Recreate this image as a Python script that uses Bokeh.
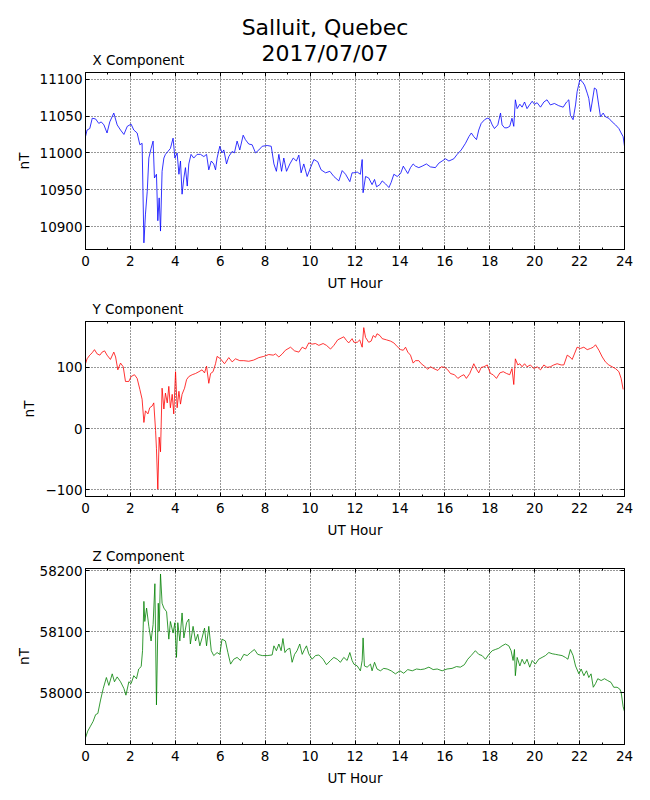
from bokeh.plotting import figure
from bokeh.models import Range1d, FixedTicker, LinearAxis, Title, Div
from bokeh.layouts import column
from bokeh.embed import file_html
from bokeh.resources import INLINE

# ---------------- data ----------------
x_hours = [0.00,0.07,0.19,0.30,0.45,0.59,0.70,0.82,0.96,1.08,1.26,1.41,1.56,1.71,1.86,2.03,2.15,2.30,2.42,2.52,
           2.60,2.67,2.75,2.82,2.92,3.01,3.07,3.16,3.22,3.28,3.34,3.41,3.49,3.56,3.67,3.78,3.90,3.98,4.08,4.16,
           4.23,4.30,4.38,4.45,4.53,4.60,4.70,4.82,4.97,5.12,5.27,5.39,5.49,5.60,5.71,5.79,5.86,5.98,6.08,6.16,
           6.28,6.38,6.53,6.63,6.75,6.87,7.02,7.12,7.27,7.42,7.57,7.72,7.87,8.09,8.27,8.39,8.50,8.61,8.73,8.83,
           8.95,9.10,9.25,9.39,9.50,9.60,9.72,9.87,10.02,10.17,10.34,10.49,10.69,10.88,11.06,11.28,11.43,11.58,11.77,11.87,
           11.95,12.10,12.24,12.32,12.36,12.47,12.61,12.76,12.87,12.96,13.11,13.21,13.36,13.51,13.61,13.73,13.88,14.03,14.15,14.25,
           14.35,14.47,14.59,14.69,14.84,14.99,15.18,15.36,15.58,15.73,15.88,16.03,16.18,16.40,16.55,16.73,16.92,17.07,17.18,17.29,
           17.41,17.51,17.62,17.77,17.89,18.00,18.11,18.21,18.36,18.48,18.55,18.66,18.77,18.89,18.99,19.07,19.14,19.22,19.34,19.44,
           19.55,19.66,19.77,19.89,19.99,20.11,20.26,20.41,20.55,20.70,20.88,21.07,21.27,21.42,21.52,21.59,21.71,21.82,21.89,22.01,
           22.11,22.22,22.34,22.41,22.49,22.56,22.66,22.75,22.85,22.93,23.05,23.15,23.30,23.45,23.60,23.75,23.85,23.94,24.00]
x_values = [11022,11031,11033,11047,11046,11040,11042,11038,11027,11042,11054,11038,11031,11025,11036,11039,11031,11027,11011,11013,
            10878,10917,10948,10993,11006,11016,10966,10971,10908,10939,10894,10975,10993,10998,11002,11006,11020,10993,11000,10971,
            10989,10944,10966,10980,10955,10985,10998,10993,10998,10998,10995,10998,10977,10989,10985,10977,10993,11009,11000,11004,
            10985,10995,11002,11000,11016,11004,11024,11018,11012,11011,11000,11004,11009,11010,11009,10985,10975,10998,10975,10993,
            10975,10985,10993,10989,10997,10973,10985,10968,10980,10991,10988,10977,10973,10975,10968,10962,10976,10971,10961,10973,
            10973,10974,10971,10991,10946,10968,10966,10957,10964,10954,10957,10962,10958,10953,10960,10971,10968,10972,10982,10977,
            10972,10980,10985,10982,10980,10982,10985,10981,10980,10986,10989,10992,10989,10992,10998,11004,11013,11022,11027,11022,
            11018,11031,11040,11045,11047,11046,11038,11033,11038,11054,11038,11034,11034,11036,11047,11036,11072,11060,11066,11062,
            11069,11060,11065,11070,11066,11068,11062,11069,11072,11065,11067,11064,11062,11069,11072,11051,11045,11065,11083,11099,
            11097,11092,11081,11074,11056,11069,11088,11086,11065,11049,11054,11049,11047,11042,11038,11033,11027,11022,11009]

y_hours = [0.00,0.07,0.19,0.30,0.40,0.52,0.64,0.74,0.85,0.96,1.11,1.26,1.34,1.44,1.56,1.68,1.78,1.93,2.03,2.18,
           2.30,2.42,2.52,2.60,2.67,2.78,2.86,2.97,3.04,3.12,3.16,3.22,3.28,3.34,3.41,3.49,3.56,3.64,3.71,3.78,
           3.86,3.93,4.01,4.08,4.16,4.23,4.30,4.41,4.50,4.60,4.75,4.90,5.05,5.19,5.30,5.39,5.49,5.57,5.68,5.79,
           5.86,6.01,6.19,6.38,6.53,6.68,6.87,7.05,7.27,7.49,7.72,7.94,8.16,8.36,8.46,8.61,8.76,8.90,9.13,9.31,
           9.50,9.65,9.80,9.94,10.09,10.24,10.39,10.58,10.73,10.91,11.06,11.23,11.50,11.62,11.72,11.87,
           11.95,12.10,12.21,12.32,12.39,12.47,12.61,12.72,12.81,12.91,12.98,13.11,13.21,13.40,13.58,13.73,13.88,14.03,14.15,14.25,
           14.35,14.47,14.59,14.69,14.84,14.95,15.09,15.24,15.36,15.51,15.69,15.84,15.99,16.13,16.25,16.43,16.58,16.73,16.85,16.96,
           17.11,17.29,17.41,17.51,17.62,17.74,17.89,18.03,18.15,18.30,18.45,18.60,18.75,18.89,18.99,19.07,19.14,19.25,19.34,19.44,
           19.55,19.66,19.81,19.96,20.11,20.26,20.41,20.55,20.70,20.85,21.00,21.18,21.30,21.45,21.57,21.67,21.77,21.89,22.04,22.19,
           22.34,22.49,22.61,22.71,22.86,23.01,23.15,23.30,23.45,23.60,23.75,23.85,23.94]
y_values = [106,114,120,124,129,122,120,125,127,120,113,125,117,96,107,101,77,77,85,88,
            82,64,48,10,29,24,34,37,42,-3,-33,-99,-14,-38,66,32,58,42,69,34,
            56,24,93,34,61,40,56,66,80,85,88,90,93,96,91,102,74,90,93,106,
            118,114,106,116,109,114,111,111,110,112,116,118,121,120,122,117,122,128,133,127,
            125,133,130,140,138,139,136,139,136,130,136,145,150,144,140,147,
            141,141,145,133,165,149,141,143,152,149,155,152,147,145,143,140,134,129,128,133,
            125,120,107,111,111,106,102,97,101,98,95,101,100,96,90,88,82,86,88,82,
            90,106,97,91,100,101,104,90,88,82,91,93,90,88,98,72,114,104,106,101,
            106,101,104,98,101,96,104,100,101,104,106,104,104,120,117,113,122,133,131,133,
            129,131,133,137,128,117,109,104,101,98,93,82,64]

z_hours = [0.00,0.10,0.22,0.34,0.45,0.55,0.67,0.79,0.93,1.04,1.19,1.29,1.41,1.56,1.71,1.80,1.93,2.03,2.15,2.27,
           2.37,2.48,2.54,2.60,2.64,2.72,2.82,2.92,3.01,3.09,3.16,3.24,3.28,3.34,3.41,3.49,3.61,3.71,3.78,3.90,
           3.98,4.05,4.11,4.20,4.30,4.38,4.50,4.60,4.67,4.79,4.90,5.00,5.09,5.19,5.30,5.39,5.49,5.60,5.71,5.86,
           5.98,6.08,6.23,6.34,6.46,6.60,6.75,6.90,7.05,7.20,7.35,7.52,7.67,7.87,8.09,8.31,8.39,8.50,8.61,8.71,
           8.79,8.88,8.98,9.10,9.20,9.31,9.42,9.54,9.65,9.75,9.84,9.94,10.09,10.24,10.39,10.58,10.73,10.91,11.06,11.21,
           11.35,11.50,11.65,11.77,11.87,
           11.95,12.10,12.24,12.32,12.36,12.42,12.54,12.69,12.76,12.87,12.98,13.13,13.28,13.43,13.61,13.80,14.00,14.17,14.35,14.55,
           14.74,14.92,15.09,15.29,15.48,15.66,15.88,16.10,16.32,16.52,16.69,16.87,17.02,17.17,17.36,17.51,17.66,17.81,17.96,18.11,
           18.25,18.40,18.55,18.70,18.85,18.95,19.04,19.10,19.14,19.22,19.34,19.44,19.55,19.66,19.78,19.89,20.03,20.18,20.33,20.48,
           20.63,20.78,20.93,21.07,21.22,21.37,21.48,21.59,21.71,21.82,21.97,22.07,22.19,22.31,22.41,22.51,22.61,22.71,22.81,22.96,
           23.11,23.25,23.40,23.52,23.67,23.79,23.85,23.94,24.00]
z_values = [57926,57937,57945,57953,57964,57966,57988,58007,58025,58012,58031,58018,58026,58018,58007,57996,58018,58015,58028,58023,
            58039,58043,58069,58150,58117,58139,58109,58085,58112,58179,57980,58147,58101,58195,58147,58139,58133,58088,58117,58098,
            58115,58058,58115,58085,58131,58090,58115,58121,58080,58109,58085,58096,58077,58090,58106,58077,58109,58069,58061,58066,
            58063,58088,58085,58066,58047,58055,58058,58053,58063,58061,58066,58071,58063,58061,58061,58062,58077,58069,58080,58069,
            58089,58066,58071,58073,58050,58063,58069,58080,58063,58071,58077,58064,58055,58061,58062,58055,58046,58053,58058,58055,
            58050,58058,58053,58066,58053,
            58047,58044,58036,58053,58090,58044,58042,58047,58036,58050,58039,58036,58040,58039,58036,58031,58036,58032,58038,58036,
            58039,58038,58039,58042,58038,58039,58036,58039,58040,58043,58042,58046,58055,58061,58069,58063,58061,58055,58063,58069,
            58071,58073,58077,58080,58077,58069,58053,58071,58028,58058,58044,58055,58047,58055,58042,58053,58047,58055,58058,58061,
            58066,58064,58063,58062,58061,58058,58055,58071,58061,58044,58031,58039,58028,58036,58025,58031,58009,58015,58023,58020,
            58023,58020,58017,58009,58009,58006,58001,57977,57969]

hour_ticks = [0, 2, 4, 6, 8, 10, 12, 14, 16, 18, 20, 22, 24]
hour_minor = [1, 3, 5, 7, 9, 11, 13, 15, 17, 19, 21, 23]
x_yticks = [10900, 10950, 11000, 11050, 11100]
y_yticks = [-100, 0, 100]
z_yticks = [58000, 58100, 58200]

main_title = ["Salluit, Quebec", "2017/07/07"]
panel_titles = ["X Component", "Y Component", "Z Component"]
FONT = "DejaVu Sans"
FS = "13.5px"


def style_axis(ax, labels=True, standoff=6):
    ax.axis_line_color = "black"
    ax.axis_line_width = 1
    ax.major_tick_line_color = "black"
    ax.minor_tick_line_color = "black"
    ax.major_tick_in = 4
    ax.major_tick_out = 0
    ax.minor_tick_in = 2
    ax.minor_tick_out = 0
    ax.major_label_text_font = FONT
    ax.axis_label_text_font = FONT
    ax.axis_label_text_font_size = FS
    ax.axis_label_text_font_style = "normal"
    ax.axis_label_text_color = "black"
    if labels:
        ax.major_label_text_font_size = FS
        ax.major_label_text_color = "black"
        ax.major_label_standoff = standoff
    else:
        ax.major_label_text_font_size = "1px"
        ax.major_label_text_color = None
        ax.major_label_standoff = 0


def make_panel(hours, vals, color, yr, yticks, title, top_border, bottom_border):
    p = figure(width=650, height=top_border + 178 + bottom_border, output_backend="svg",
               toolbar_location=None, x_range=Range1d(0, 24), y_range=Range1d(*yr),
               min_border_left=85, min_border_right=26, min_border_top=top_border,
               min_border_bottom=bottom_border, x_axis_label="UT Hour", y_axis_label="nT")
    p.outline_line_color = "black"
    p.outline_line_width = 1
    p.background_fill_color = "white"
    p.border_fill_color = None

    p.xaxis.ticker = FixedTicker(ticks=hour_ticks, minor_ticks=hour_minor)
    p.yaxis.ticker = FixedTicker(ticks=yticks, minor_ticks=[])
    style_axis(p.xaxis[0], standoff=6)
    style_axis(p.yaxis[0], standoff=3)
    p.yaxis[0].axis_label_standoff = 5
    p.xaxis[0].axis_label_standoff = 6
    p.yaxis[0].major_label_overrides = {t: str(t).replace("-", "\u2212") for t in yticks if t < 0}

    top = LinearAxis(ticker=FixedTicker(ticks=hour_ticks, minor_ticks=hour_minor))
    style_axis(top, labels=False)
    p.add_layout(top, "above")
    right = LinearAxis(ticker=FixedTicker(ticks=yticks, minor_ticks=[]))
    style_axis(right, labels=False)
    p.add_layout(right, "right")

    for g in (p.xgrid[0], p.ygrid[0]):
        g.grid_line_color = "black"
        g.grid_line_dash = "1 2"
        g.grid_line_width = 1
        g.grid_line_alpha = 0.8

    p.line(hours, vals, line_color=color, line_width=0.8)

    p.add_layout(Title(text=title, align="left", offset=7, standoff=10,
                       text_font=FONT, text_font_size=FS, text_font_style="normal",
                       text_color="black"), "above")
    return p


head = Div(text=("<div style=\"width:650px;text-align:center;font-family:'DejaVu Sans';font-size:22px;"
                 "line-height:26px;padding-top:15px;color:black\">"
                 + main_title[0] + "<br>" + main_title[1] + "</div>"),
           width=650, height=68, margin=(0, 0, -68, 0),
           styles={"width": "650px", "text-align": "center"})

p1 = make_panel(x_hours, x_values, "#0000ff", (10869, 11109), x_yticks, panel_titles[0], 72, 43)
p2 = make_panel(y_hours, y_values, "#ff0000", (-111, 175), y_yticks, panel_titles[1], 26, 43)
p3 = make_panel(z_hours, z_values, "#008000", (57915, 58204), z_yticks, panel_titles[2], 26, 46)

layout = column(head, p1, p2, p3, spacing=0)
open("out.html", "w").write(file_html(layout, INLINE))
